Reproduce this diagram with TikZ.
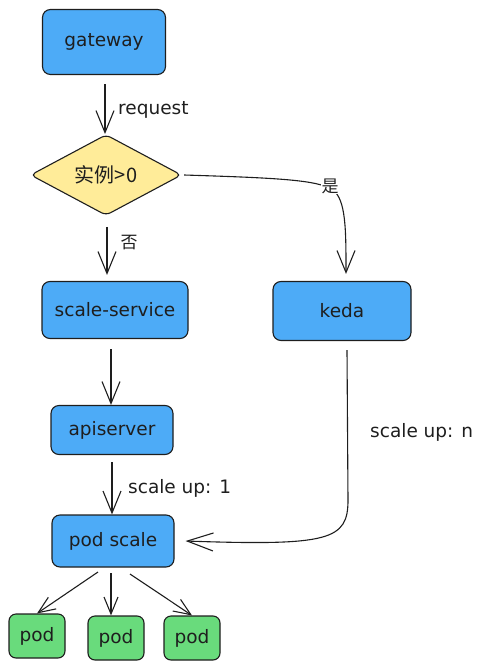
\documentclass[tikz,border=0pt]{standalone}
\usepackage{fontspec}
\setmainfont{DejaVu Sans}
\newfontfamily\cjk{Noto Sans CJK SC}
\usetikzlibrary{arrows.meta,shapes.geometric}
\definecolor{strokec}{HTML}{1E1E1E}
\definecolor{bluef}{HTML}{4DABF7}
\definecolor{yellowf}{HTML}{FFEC99}
\definecolor{greenf}{HTML}{69DB7C}
\tikzset{
  box/.style={draw=strokec,line width=1.1pt,rounded corners=8pt,fill=bluef,inner sep=0pt,text=strokec,font=\fontsize{18.5}{22}\selectfont},
  podbox/.style={draw=strokec,line width=1.1pt,rounded corners=7pt,fill=greenf,inner sep=0pt,minimum width=56pt,minimum height=44pt,text=strokec,font=\fontsize{18.5}{22}\selectfont},
  decision/.style={draw=strokec,line width=1.1pt,diamond,rounded corners=5pt,fill=yellowf,inner sep=0pt,minimum width=151pt,minimum height=78pt,text=strokec,font=\cjk\fontsize{20}{24}\selectfont},
  arr/.style={draw=strokec,line width=1.1pt,-{Straight Barb[length=22pt,width=18pt,line width=1.1pt]}},
  smallarr/.style={draw=strokec,line width=1.1pt,-{Straight Barb[length=17pt,width=14pt,line width=1.1pt]}},
  lbl/.style={font=\fontsize{18.5}{22}\selectfont,inner sep=1pt,text=strokec},
  cjklbl/.style={font=\cjk\fontsize{17}{20}\selectfont,inner sep=1pt,text=strokec}
}
\begin{document}
\begin{tikzpicture}[x=1pt,y=-1pt]
\useasboundingbox (0,0) rectangle (485,672);
\node[box,minimum width=123pt,minimum height=65pt] (gateway) at (104,42) {gateway};
\node[decision] (dia) at (106,175) {实例>0};
\node[box,minimum width=146pt,minimum height=57pt] (ss) at (115,310) {scale-service};
\node[box,minimum width=138pt,minimum height=59pt] (keda) at (342,311) {keda};
\node[box,minimum width=122pt,minimum height=49pt] (api) at (112,430) {apiserver};
\node[box,minimum width=122pt,minimum height=52pt] (ps) at (113,541) {pod scale};
\node[podbox] (pod1) at (37,636) {pod};
\node[podbox] (pod2) at (116,638) {pod};
\node[podbox] (pod3) at (192,638) {pod};

\draw[arr] (gateway.south -| 105,0) ++(0,9) -- (dia.north -| 105,0);
\node[lbl,anchor=west] (lreq) at (117,110) {request};
\draw[arr] (dia.south -| 107,0) ++(0,11) -- ([yshift=6pt]ss.north -| 107,0);
\node[cjklbl] (lno) at (129,243) {否};
\draw[arr] ([xshift=2pt]dia.east) .. controls (280,178) and (318,180) .. (333,190) .. controls (346,200) and (346,230) .. ([yshift=7pt]keda.north -| 346,0);
\node[cjklbl,fill=white] (lyes) at (330,186) {是};
\draw[arr] (ss.south -| 111,0) ++(0,10) -- (api.north -| 111,0);
\draw[arr] (api.south -| 112,0) ++(0,7) -- (ps.north -| 112,0);
\node[lbl,anchor=west] (lone) at (127,488) {scale up: 1};
\draw[arr,-{Straight Barb[length=26pt,width=18pt,line width=1.1pt]}] ([yshift=-9pt]keda.south -| 347,0) -- (348,500) .. controls (348,540) and (330,546) .. ([xshift=11pt]ps.east);
\node[lbl,anchor=west] (ln) at (369,432) {scale up: n};
\draw[smallarr] (98,572) -- (pod1.north);
\draw[smallarr] (111,573) -- (pod2.north -| 111,0);
\draw[smallarr] (130,574) -- (pod3.north);
\end{tikzpicture}
\end{document}
